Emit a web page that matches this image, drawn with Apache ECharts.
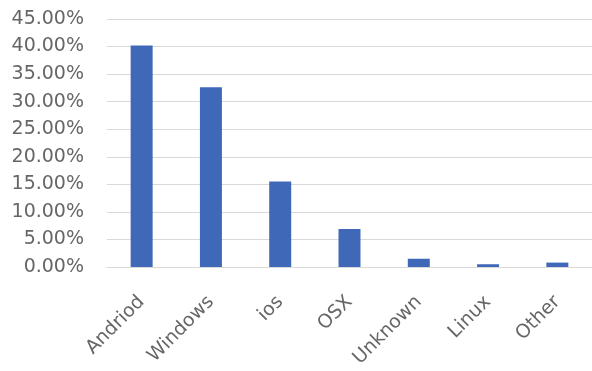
<!DOCTYPE html>
<html><head><meta charset="utf-8">
<script src="https://cdn.jsdelivr.net/npm/echarts@6/dist/echarts.min.js"></script>
<style>html,body{margin:0;padding:0;background:#fff}#c{width:592px;height:371px}</style>
</head><body><div id="c"></div>
<script>
var categories = ["Andriod","Windows","ios","OSX","Unknown","Linux","Other"];
var shareValues = [40.2, 32.6, 15.5, 6.9, 1.5, 0.5, 0.8];
var chart = echarts.init(document.getElementById('c'), null, {renderer:'canvas'});
var font = "'DejaVu Sans', sans-serif";
chart.setOption({
  animation:false,
  grid:{left:107, top:19, width:490, height:248, containLabel:false},
  xAxis:{type:'category', data:categories,
    axisLine:{show:true, lineStyle:{color:'#d9d9d9', width:1}},
    axisTick:{show:false},
    axisLabel:{rotate:45, color:'#666666', fontFamily:font, fontSize:19, margin:32, interval:0}
  },
  yAxis:{type:'value', min:0, max:45, interval:5,
    axisLine:{show:false}, axisTick:{show:false},
    splitLine:{lineStyle:{color:'#d9d9d9', width:1}},
    axisLabel:{color:'#666666', fontFamily:font, fontSize:19, margin:23,
      formatter:function(v){return v.toFixed(2)+'%';}}
  },
  series:[{type:'bar', data:shareValues, barWidth:22, itemStyle:{color:'#4068b8'}}]
});
</script></body></html>
